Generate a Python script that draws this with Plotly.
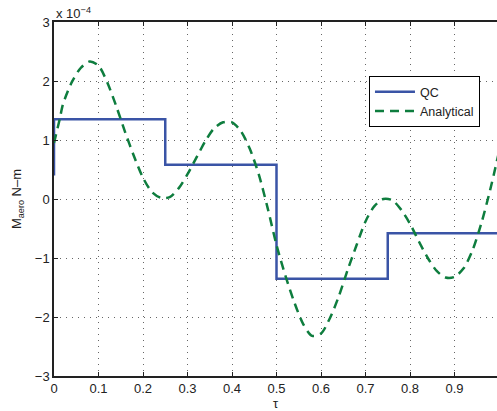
import plotly.graph_objects as go

# QC step values (x1e-4 N-m), drawn with horizontal-then-vertical steps
qc_tau = [0.0, 0.0, 0.25, 0.5, 0.75, 1.0]
qc_val = [0.40, 1.35, 0.58, -1.35, -0.58, -0.58]

# Analytical curve (x1e-4 N-m)
an_tau = [0.00, 0.013, 0.02, 0.04, 0.06, 0.08, 0.10, 0.12, 0.14, 0.16, 0.18, 0.20,
          0.22, 0.24, 0.26, 0.28, 0.30, 0.32, 0.34, 0.36, 0.38, 0.40, 0.42,
          0.44, 0.46, 0.48, 0.50, 0.52, 0.54, 0.56, 0.58, 0.60, 0.62, 0.64,
          0.66, 0.68, 0.70, 0.72, 0.74, 0.76, 0.78, 0.80, 0.82, 0.84, 0.86,
          0.88, 0.90, 0.92, 0.94, 0.96, 0.98, 1.00]
an_val = [0.95, 1.36, 1.60, 1.98, 2.22, 2.33, 2.26, 1.97, 1.57, 1.13, 0.72, 0.36,
          0.12, 0.02, 0.03, 0.18, 0.42, 0.70, 0.98, 1.20, 1.30, 1.30, 1.15,
          0.85, 0.42, -0.15, -0.78, -1.30, -1.75, -2.12, -2.32, -2.28, -2.02, -1.65,
          -1.20, -0.78, -0.38, -0.12, 0.00, -0.02, -0.18, -0.42, -0.72, -1.00, -1.22,
          -1.33, -1.32, -1.18, -0.88, -0.42, 0.15, 0.80]

x_ticks = [0, 0.1, 0.2, 0.3, 0.4, 0.5, 0.6, 0.7, 0.8, 0.9]
x_tick_text = ["0", "0.1", "0.2", "0.3", "0.4", "0.5", "0.6", "0.7", "0.8", "0.9"]
y_ticks = [-3, -2, -1, 0, 1, 2, 3]
y_tick_text = ["\u22123", "\u22122", "\u22121", "0", "1", "2", "3"]

FONT = "Liberation Sans, Arial, Helvetica, sans-serif"

fig = go.Figure()
fig.add_trace(go.Scatter(x=qc_tau, y=qc_val, mode="lines", name="QC",
                         line=dict(color="#3a54a6", width=2.5, shape="hv")))
fig.add_trace(go.Scatter(x=an_tau, y=an_val, mode="lines", name="Analytical",
                         line=dict(color="#0e7d3e", width=2.5, dash="9px,6px", shape="spline", smoothing=0.8)))

grid = dict(showgrid=True, gridcolor="#666", griddash="1px,5px", gridwidth=1)

fig.update_layout(
    width=497, height=411,
    margin=dict(l=54, r=0, t=22, b=35),
    paper_bgcolor="white", plot_bgcolor="white",
    font=dict(family=FONT, size=13, color="#222"),
    showlegend=True,
    legend=dict(x=0.711, y=0.847, xanchor="left", yanchor="top",
                bgcolor="white", bordercolor="black", borderwidth=1,
                font=dict(size=12.5), tracegroupgap=0, itemwidth=40),
    xaxis=dict(range=[0, 0.9955], tickvals=x_ticks, ticktext=x_tick_text,
               showline=True, linecolor="#222", linewidth=1.5, mirror="ticks",
               ticks="inside", ticklen=4, tickcolor="#222",
               zeroline=False, tickfont=dict(size=13),
               title=dict(text="\u03c4", font=dict(size=13), standoff=5), **grid),
    yaxis=dict(range=[-3, 3], tickvals=y_ticks, ticktext=y_tick_text,
               showline=True, linecolor="#222", linewidth=1.5, mirror=False,
               ticks="inside", ticklen=4, tickcolor="#222",
               zeroline=False, tickfont=dict(size=13),
               title=dict(text="M<sub>aero</sub> N\u2013m", font=dict(size=13), standoff=10), **grid),
    annotations=[dict(text="x 10<sup>\u22124</sup>", xref="paper", yref="paper",
                      x=0.0, y=1.0, xanchor="left", yanchor="bottom", showarrow=False,
                      font=dict(size=13), xshift=0, yshift=-1)],
)

fig.write_html("out.html")
